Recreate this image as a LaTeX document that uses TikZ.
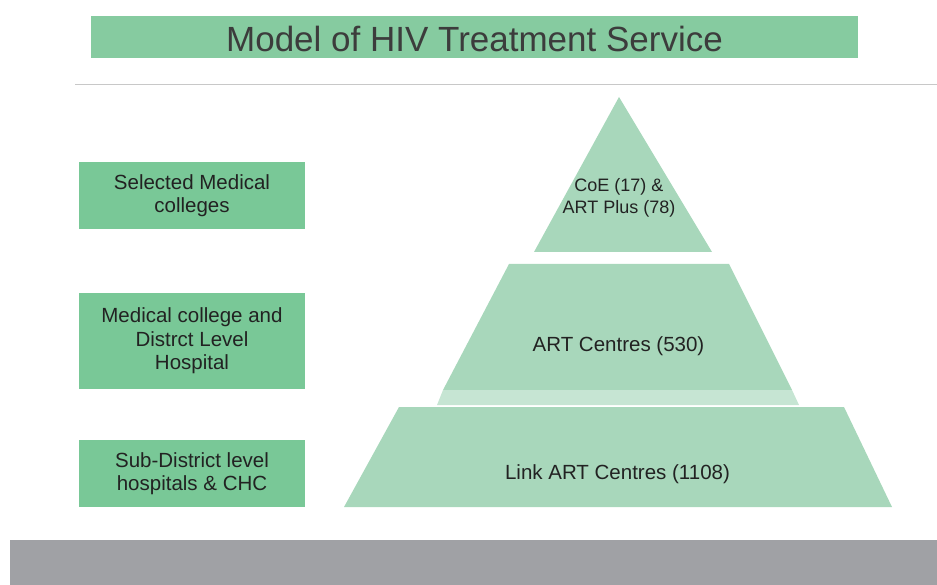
\documentclass[tikz,border=0pt]{standalone}
\usepackage{fontspec}
\setmainfont{Liberation Sans}
\definecolor{titlegreen}{HTML}{86CBA0}
\definecolor{boxgreen}{HTML}{79C897}
\definecolor{tiergreen}{HTML}{A8D7BB}
\definecolor{bargray}{HTML}{A0A1A5}
\definecolor{rulegray}{HTML}{C8C8C8}
\definecolor{titletext}{HTML}{3C3C3C}
\definecolor{bodytext}{HTML}{222222}
\tikzset{every picture/.style={x=1pt,y=-1pt}}
\tikzset{levelbox/.style={fill=boxgreen,minimum width=226pt,inner sep=0pt,
	align=center,text=bodytext,font=\fontsize{20.5}{23.5}\selectfont}}
\tikzset{tier/.style={fill=tiergreen}}
\tikzset{tierlabel/.style={align=center,text=bodytext,
	font=\fontsize{20.5}{23.5}\selectfont}}
\begin{document}
\begin{tikzpicture}
		\useasboundingbox (0,0) rectangle (937,585);
		% heading
		\node[fill=titlegreen, minimum width=767pt, minimum height=42pt, inner sep=0pt,
		text height=30pt, text depth=0pt,
		text=titletext, font=\fontsize{35}{40}\selectfont] (title) at (474.5,37)
		{Model of HIV Treatment Service};
		\draw[rulegray, thin] (75,84) -- (937,84);
		% pyramid
		\fill[tier] (619,97) -- (712,252) -- (534,252) -- cycle;
		\fill[tier] (509,264) -- (729,264) -- (792,390) -- (443,390) -- cycle;
		\fill[tiergreen!65] (443,390) -- (792,390) -- (799,405) -- (437,405) -- cycle;
		\fill[tier] (399,407) -- (844,407) -- (892,507) -- (344,507) -- cycle;
		\node[tierlabel, font=\fontsize{18}{22}\selectfont] (coe) at (619,198)
		{CoE (17) \&\\ART Plus (78)};
		\node[tierlabel] (art) at (618.5,346) {ART Centres (530)};
		\node[tierlabel] (link) at (617.5,474) {Link ART Centres (1108)};
		% levels
		\node[levelbox, minimum height=67pt] (medcol) at (192,195.5)
		{Selected Medical\\colleges};
		\node[levelbox, minimum height=96pt] (district) at (192,341)
		{Medical college and\\Distrct Level\\Hospital};
		\node[levelbox, minimum height=67pt] (subdist) at (192,473.5)
		{Sub-District level\\hospitals \& CHC};
		% footer
		\fill[bargray] (10,540) rectangle (937,585);
	\end{tikzpicture}
\end{document}
